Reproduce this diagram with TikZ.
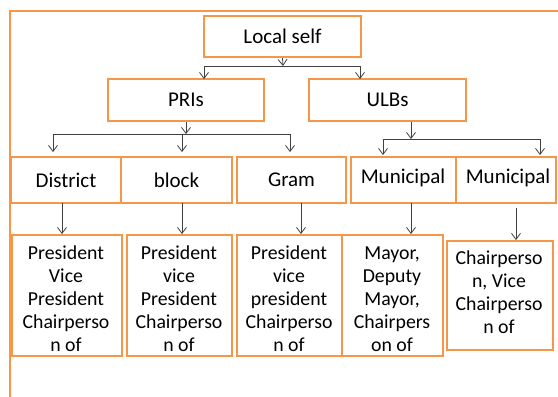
\documentclass[tikz,border=0pt]{standalone}
\usepackage{fontspec}
\setmainfont{Carlito}
\usetikzlibrary{arrows.meta}
\definecolor{boxorange}{HTML}{F79646}
\definecolor{linegray}{HTML}{404040}
\begin{document}
\begin{tikzpicture}[x=1pt,y=-1pt,
  box/.style={draw=boxorange,line width=2.2pt,inner sep=0pt},
  big/.style={font=\fontsize{21}{25}\selectfont},
  small/.style={font=\fontsize{19.8}{23}\selectfont,align=center,inner sep=0pt},
  conn/.style={draw=linegray,line width=0.8pt},
  arr/.style={conn,-{Straight Barb[length=6pt,width=9pt]}},
  frame/.style={draw=boxorange,line width=2pt}]
\useasboundingbox (0,0) rectangle (558,397);
\fill[white] (0,0) rectangle (558,397);
% outer frame
\coordinate (fa) at (10,397);
\coordinate (fb) at (10,11);
\coordinate (fc) at (558,11);
\draw[frame] (fa) -- (fb) -- (fc);
% level 1 and 2
\node[box,big,minimum width=157pt,minimum height=41pt] (local) at (282.5,36.5) {Local self};
\node[box,big,minimum width=156pt,minimum height=42pt] (pri) at (186,100) {PRIs};
\node[box,big,minimum width=157pt,minimum height=42pt] (ulb) at (387.5,100) {ULBs};
% level 3
\node[box,big,minimum width=110pt,minimum height=46pt] (dist) at (66,180) {District};
\node[box,big,minimum width=111pt,minimum height=46pt] (blk) at (176.5,180) {block};
\node[box,big,minimum width=109pt,minimum height=46pt] (gram) at (291.5,180) {Gram};
\node[box,minimum width=105pt,minimum height=46pt] (mun1) at (403.5,180) {};
\node[box,minimum width=100pt,minimum height=46pt] (mun2) at (506,180) {};
\node[big,inner sep=0pt,anchor=north] (mt1) at (403,166) {\strut Municipal};
\node[big,inner sep=0pt,anchor=north] (mt2) at (508,166) {\strut Municipal};
% level 4
\node[box,minimum width=110pt,minimum height=121pt] (r1) at (67,295.5) {};
\node[box,minimum width=105pt,minimum height=121pt] (r2) at (179.5,295.5) {};
\node[box,minimum width=105pt,minimum height=121pt] (r3) at (289.5,295.5) {};
\node[box,minimum width=101pt,minimum height=121pt] (r4) at (392.5,295.5) {};
\node[box,minimum width=106pt,minimum height=109pt] (r5) at (500,295.5) {};
\node[small,anchor=north] (t1) at (66,243) {\strut President\\Vice\\President\\Chairperso\\n of};
\node[small,anchor=north] (t2) at (179,243) {\strut President\\vice\\President\\Chairperso\\n of};
\node[small,anchor=north] (t3) at (289,243) {\strut President\\vice\\president\\Chairperso\\n of};
\node[small,anchor=north] (t4) at (392,243) {\strut Mayor,\\Deputy\\Mayor,\\Chairpers\\on of};
\node[small,anchor=north] (t5) at (499,248) {\strut Chairperso\\n, Vice\\Chairperso\\n of};
% connectors level 1 -> 2
\coordinate (j1) at (283,66);
\coordinate (j1l) at (204,66);
\coordinate (j1r) at (360,66);
\coordinate (e1l) at (204,79);
\coordinate (e1r) at (360,79);
\draw[arr] (local.south) -- (j1);
\draw[conn] (j1l) -- (j1r);
\draw[arr] (j1l) -- (e1l);
\draw[arr] (j1r) -- (e1r);
% PRIs -> level 3
\coordinate (j2) at (186,134);
\coordinate (j2a) at (53,134);
\coordinate (j2b) at (182,134);
\coordinate (j2c) at (290,134);
\coordinate (e2a) at (53,152);
\coordinate (e2b) at (182,152);
\coordinate (e2c) at (290,152);
\draw[arr] (pri.south) -- (j2);
\draw[conn] (j2a) -- (j2c);
\draw[arr] (j2a) -- (e2a);
\draw[arr] (j2b) -- (e2b);
\draw[arr] (j2c) -- (e2c);
% ULBs -> level 3
\coordinate (j3) at (411,139);
\coordinate (j3a) at (383,139);
\coordinate (j3b) at (540,139);
\coordinate (e3a) at (383,155);
\coordinate (e3b) at (540,155);
\draw[arr] (ulb.south -| j3) -- (j3);
\draw[conn] (j3a) -- (j3b);
\draw[arr] (j3a) -- (e3a);
\draw[arr] (j3b) -- (e3b);
% level 3 -> level 4
\coordinate (s1) at (62,203); \coordinate (d1) at (62,234);
\coordinate (s2) at (182,203); \coordinate (d2) at (182,234);
\coordinate (s3) at (301,203); \coordinate (d3) at (301,234);
\coordinate (s4) at (411,203); \coordinate (d4) at (411,234);
\coordinate (s5) at (516,208); \coordinate (d5) at (516,240);
\draw[arr] (s1) -- (d1);
\draw[arr] (s2) -- (d2);
\draw[arr] (s3) -- (d3);
\draw[arr] (s4) -- (d4);
\draw[arr] (s5) -- (d5);
\end{tikzpicture}
\end{document}
